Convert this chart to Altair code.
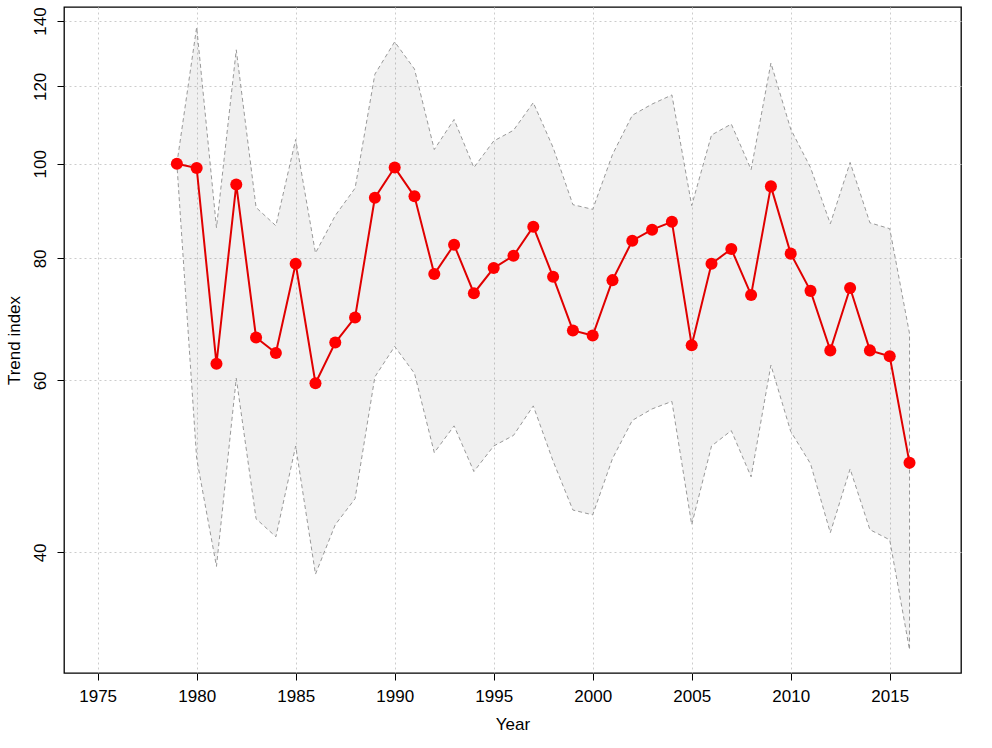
import altair as alt
import pandas as pd

years = list(range(1979, 2017))
index = [100, 99, 62.4, 95.2, 66.4, 64.0, 79.0, 59.6, 65.6, 69.6,
         92.3, 99.1, 92.6, 77.1, 82.6, 73.7, 78.2, 80.5, 86.2, 76.6,
         67.5, 66.7, 76.0, 83.4, 85.6, 87.2, 65.2, 79.0, 81.8, 73.4,
         94.8, 80.9, 74.1, 64.4, 74.6, 64.4, 63.5, 49.4]
upper = [100, 138, 86, 130.8, 90.2, 86.4, 105.9, 81.0, 88.5, 94.4,
         123.5, 133.3, 125, 103.4, 111, 99.1, 105.5, 108.2, 115.5, 103.9,
         90.8, 89.8, 102.2, 112.1, 115.1, 117.6, 90.6, 107, 109.8, 98.6,
         126.8, 108.5, 99.1, 86.8, 100.3, 87, 85.8, 67]
lower = [100, 49.9, 38.7, 60.3, 43.3, 41.5, 51.4, 38.0, 42.7, 45.4,
         60.5, 65, 61, 50.6, 53.9, 48.4, 51.4, 52.7, 56.5, 49.6,
         44.2, 43.7, 49.9, 54.6, 56.1, 57.1, 42.7, 51.4, 53.3, 47.8,
         62.2, 53.2, 49.3, 41.9, 48.7, 42.2, 41.2, 31.8]

x_ticks = [1975, 1980, 1985, 1990, 1995, 2000, 2005, 2010, 2015]
y_ticks = [40, 60, 80, 100, 120, 140]

df = pd.DataFrame({"year": years, "index": index, "upper": upper, "lower": lower})

# polygon outline: upper forward, lower backward
outline = pd.DataFrame({
    "year": years + years[::-1],
    "value": upper + lower[::-1],
    "ord": list(range(2 * len(years))),
})

FONT = "Liberation Sans Narrow, Liberation Sans, Arial, sans-serif"

xs = alt.Scale(domain=[1973.3, 2018.6], nice=False, zero=False)
ys = alt.Scale(type="log", domain=[30.1, 144.7], nice=False, zero=False)

x_axis = alt.Axis(values=x_ticks, format="d", title="Year", labelFontSize=17,
                  titleFontSize=17, titleFontWeight="normal", labelFont=FONT, titleFont=FONT,
                  labelColor="black", titleColor="black", tickColor="black", tickSize=7,
                  labelPadding=8, domain=False, grid=True, gridColor="#cccccc",
                  gridDash=[2, 3], titleY=51, titleBaseline="middle", labelFlush=False)
y_axis = alt.Axis(values=y_ticks, title="Trend index", labelFontSize=17,
                  titleFontSize=17, titleFontWeight="normal", labelFont=FONT, titleFont=FONT,
                  labelColor="black", titleColor="black", tickColor="black", tickSize=7,
                  labelAngle=270, labelAlign="center", labelBaseline="bottom",
                  labelPadding=8, domain=False, grid=True, gridColor="#cccccc",
                  gridDash=[2, 3], titleX=-50, titleY=333, titleAngle=270,
                  titleAlign="center", titleBaseline="middle", labelFlush=False)

base = alt.Chart(df)

band = base.mark_area(color="black", opacity=0.058).encode(
    x=alt.X("year:Q", scale=xs, axis=x_axis),
    y=alt.Y("lower:Q", scale=ys, axis=y_axis),
    y2="upper:Q",
)

edge = alt.Chart(outline).mark_line(color="#999999", strokeDash=[4, 3], strokeWidth=1).encode(
    x=alt.X("year:Q", scale=xs),
    y=alt.Y("value:Q", scale=ys),
    order="ord:Q",
)

line = base.mark_line(color="#e00000", strokeWidth=2).encode(
    x=alt.X("year:Q", scale=xs),
    y=alt.Y("index:Q", scale=ys),
)

pts = base.mark_circle(color="#ff0000", opacity=1, size=145).encode(
    x=alt.X("year:Q", scale=xs),
    y=alt.Y("index:Q", scale=ys),
)

chart = alt.layer(band, edge, line, pts).properties(
    width=897, height=666,
    padding={"left": 64, "top": 7, "right": 31, "bottom": 75},
    autosize="none",
    background="white",
).configure_view(stroke="black", strokeWidth=1.3)

chart.save("out.html", embed_options={"renderer": "svg", "actions": False})
